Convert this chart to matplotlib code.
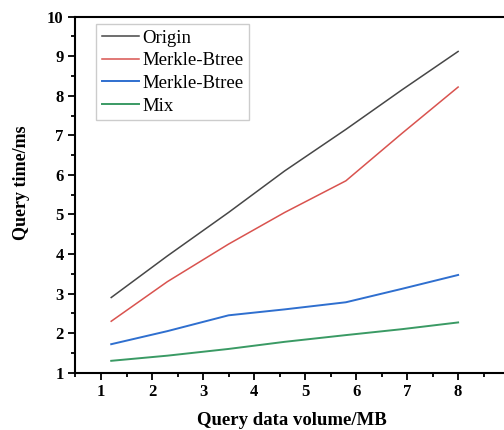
import numpy as np
import matplotlib.pyplot as plt
from matplotlib.ticker import MultipleLocator

# DATA
x_vals = [1.2, 2.3, 3.5, 4.6, 5.8, 6.9, 8.0]
origin = [2.9, 3.95, 5.05, 6.1, 7.15, 8.15, 9.12]
merkle_red = [2.3, 3.3, 4.25, 5.05, 5.85, 7.05, 8.22]
merkle_blue = [1.72, 2.05, 2.45, 2.6, 2.78, 3.12, 3.47]
mix = [1.3, 1.43, 1.6, 1.78, 1.95, 2.1, 2.27]

plt.rcParams['font.family'] = ['Liberation Serif', 'DejaVu Serif']

fig = plt.figure(figsize=(5.04, 4.30), dpi=100)
ax = fig.add_axes([0.1498, 0.1333, 0.911, 0.828])

ax.plot(x_vals, origin, color='#474747', lw=1.1, label='Origin')
ax.plot(x_vals, merkle_red, color='#d9534f', lw=1.1, label='Merkle-Btree')
ax.plot(x_vals, merkle_blue, color='#2f6fcf', lw=1.4, label='Merkle-Btree')
ax.plot(x_vals, mix, color='#3a9a64', lw=1.4, label='Mix')

ax.set_xlim(0.5, 9.5)
ax.set_ylim(1, 10)
ax.xaxis.set_major_locator(MultipleLocator(1))
ax.xaxis.set_minor_locator(MultipleLocator(0.5))
ax.yaxis.set_major_locator(MultipleLocator(1))
ax.yaxis.set_minor_locator(MultipleLocator(0.5))
ax.tick_params(which='both', direction='out', width=1.3, labelsize=12)
ax.tick_params(which='major', length=5)
ax.tick_params(which='minor', length=3)
for lab in ax.get_xticklabels() + ax.get_yticklabels():
    lab.set_fontweight('bold')
for s in ['left', 'bottom', 'top', 'right']:
    ax.spines[s].set_linewidth(1.5)

ax.set_xlabel('Query data volume/MB', fontsize=13.5, fontweight='bold')
ax.set_ylabel('Query time/ms', fontsize=13, fontweight='bold')
ax.xaxis.set_label_coords(0.472, -0.110)
ax.yaxis.set_label_coords(-0.099, 0.535)

ax.legend(loc='upper left', bbox_to_anchor=(0.045, 0.98),
          prop={'family': 'Liberation Serif', 'size': 13.5},
          handlelength=2.0, handletextpad=0.15, labelspacing=0.3,
          borderpad=0.3, borderaxespad=0, fancybox=False, framealpha=1,
          edgecolor='#cccccc')

plt.savefig('out.png', dpi=100)
